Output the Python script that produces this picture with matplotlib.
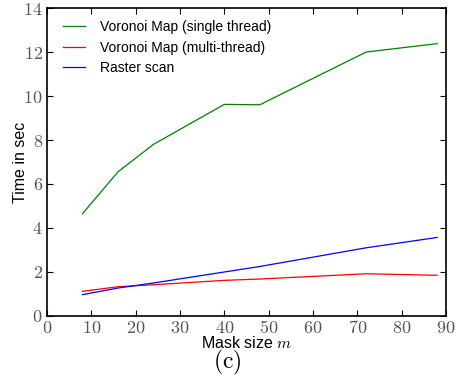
import matplotlib
matplotlib.use("Agg")
import matplotlib.pyplot as plt
from matplotlib.ticker import FuncFormatter

plt.rcParams["mathtext.fontset"] = "cm"
plt.rcParams["font.family"] = ["Liberation Sans", "DejaVu Sans"]

mask_sizes = [8, 16, 24, 40, 48, 72, 88]
voronoi_single = [4.65, 6.55, 7.8, 9.62, 9.6, 12.0, 12.38]
voronoi_multi = [1.12, 1.33, 1.42, 1.62, 1.68, 1.92, 1.85]
raster_scan = [0.97, 1.27, 1.5, 2.0, 2.25, 3.1, 3.57]

fig = plt.figure(figsize=(4.59, 3.76), dpi=100)
ax = fig.add_axes([0.1024, 0.1596, 0.8693, 0.8191])

ax.plot(mask_sizes, voronoi_single, color="green", lw=0.9, label="Voronoi Map (single thread)")
ax.plot(mask_sizes, voronoi_multi, color="red", lw=0.9, label="Voronoi Map (multi-thread)")
ax.plot(mask_sizes, raster_scan, color="blue", lw=0.9, label="Raster scan")

ax.set_xlim(0, 90)
ax.set_ylim(0, 14)
ax.set_xticks(range(0, 91, 10))
ax.set_yticks(range(0, 15, 2))
fmt = FuncFormatter(lambda v, p: r"$\mathrm{%d}$" % v)
ax.xaxis.set_major_formatter(fmt)
ax.yaxis.set_major_formatter(fmt)
ax.tick_params(direction="in", top=True, right=True, length=4, width=0.8,
               labelsize=13, labelcolor="#555555", pad=3)
for s in ax.spines.values():
    s.set_linewidth(1.2)

ax.set_xlabel(r"Mask size $m$", fontsize=11.5)
ax.set_ylabel("Time in sec", fontsize=11.5)
ax.xaxis.set_label_coords(0.5, -0.061)
ax.yaxis.set_label_coords(-0.048, 0.5)

leg = ax.legend(loc="upper left", frameon=False, fontsize=10, handlelength=1.6,
                handletextpad=1.1, borderaxespad=0, borderpad=0, labelspacing=0.45,
                bbox_to_anchor=(0.040, 0.96))

fig.text(227 / 459, 1 - 362 / 376, r"$\mathrm{(c)}$", fontsize=17, ha="center", va="center")

fig.savefig("out.png", dpi=100)
